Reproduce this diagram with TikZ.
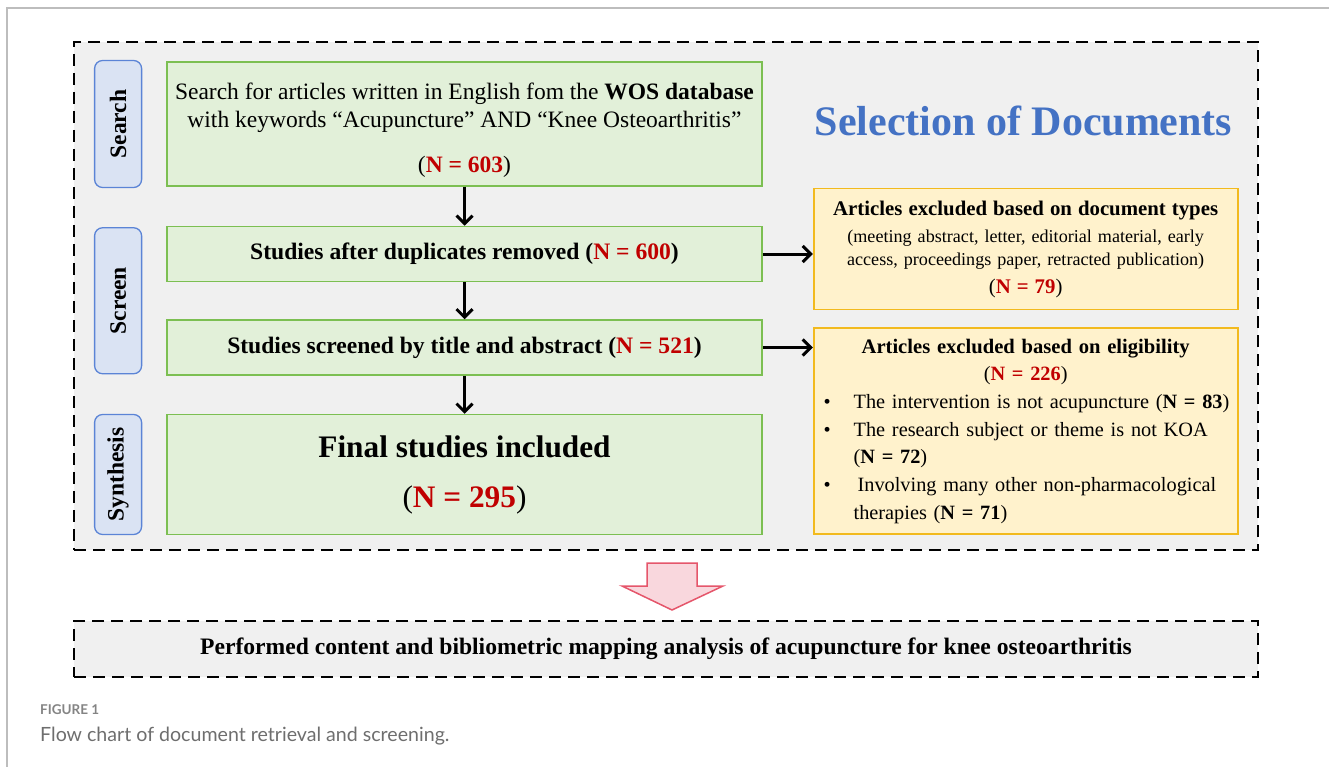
\documentclass[tikz,border=0pt]{standalone}
\usepackage{fontspec}
\setmainfont{Liberation Serif}
\newfontfamily\capfont{Lato}
\usepackage{xcolor}
\usepackage{tikz}
\usetikzlibrary{arrows.meta, positioning, calc}

\definecolor{framegray}{HTML}{F0F0F0}
\definecolor{pagegray}{HTML}{BDBDBD}
\definecolor{stagefill}{HTML}{DAE3F3}
\definecolor{stageblue}{HTML}{5B84D6}
\definecolor{stpfill}{HTML}{E2F0D9}
\definecolor{stpgreen}{HTML}{7CBF52}
\definecolor{exclfill}{HTML}{FFF2CC}
\definecolor{exclgold}{HTML}{F2BA1E}
\definecolor{nred}{HTML}{C00000}
\definecolor{titleblue}{HTML}{4472C4}
\definecolor{pinkfill}{HTML}{F9D7DD}
\definecolor{pinkedge}{HTML}{E5566B}
\definecolor{capgray}{HTML}{6E6E6E}

\newcommand{\nred}[1]{\textcolor{nred}{\textbf{#1}}}

\begin{document}
\begin{tikzpicture}[x=1pt, y=-1pt,
    node distance=38pt and 24pt,
    stagebox/.style={rectangle, draw=stageblue, fill=stagefill, line width=1.3pt, rounded corners=8pt, minimum width=47pt, inner sep=0pt, font=\fontsize{23.5}{26}\selectfont\bfseries},
    stp/.style={rectangle, draw=stpgreen, fill=stpfill, line width=1.5pt, minimum width=595pt, inner sep=0pt, align=center},
    excl/.style={rectangle, draw=exclgold, fill=exclfill, line width=1.8pt, minimum width=424pt, text width=412pt, inner xsep=6pt, inner ysep=0pt},
    dashbox/.style={draw=black, fill=framegray, line width=2pt, dash pattern=on 12pt off 7pt},
    arrow/.style={-{Straight Barb[length=8pt, width=16pt]}, line width=3pt},
]
\useasboundingbox (0,0) rectangle (1329,767);
\draw[pagegray, line width=1.5pt] (7,767) -- (7,8) -- (1329,8);

\node[dashbox, minimum width=1184pt, minimum height=508pt] (frame) at (666,296) {};

\node[stp, minimum height=124pt, font=\fontsize{23.5}{28}\selectfont] (search) at (464.5,124) {\rule{0pt}{30pt}Search for articles written in English fom the \textbf{WOS database}\\with keywords “Acupuncture” AND “Knee Osteoarthritis”\\[17pt](\nred{N = 603})};
\node[stp, below=39pt of search, minimum height=55pt, font=\fontsize{23.6}{28}\selectfont\bfseries] (dup) {Studies after duplicates removed (\textcolor{nred}{N = 600})};
\node[stp, below=37pt of dup, minimum height=55pt, font=\fontsize{23.6}{28}\selectfont\bfseries] (scr) {Studies screened by title and abstract (\textcolor{nred}{N = 521})};
\node[stp, below=of scr, minimum height=120pt, font=\fontsize{31.3}{50}\selectfont\bfseries] (final) {Final studies included\\\textmd{(}\textcolor{nred}{N = 295}\textmd{)}};

\node[stagebox, minimum height=127pt, left=of search] (lsearch) {\rotatebox{90}{Search}};
\coordinate (mid) at ($(dup.north)!0.5!(scr.south)$);
\node[stagebox, minimum height=146pt] (lscreen) at (lsearch |- mid) {\rotatebox{90}{Screen}};
\node[stagebox, minimum height=120pt, left=of final] (lsynth) {\rotatebox{90}{Synthesis}};

\node[font=\fontsize{42}{48}\selectfont\bfseries, text=titleblue] (title) at (1023.5,121) {Selection of Documents};

\node[excl, align=center, minimum height=121pt, right=50pt of dup, yshift=5pt, font=\fontsize{18.1}{23}\selectfont] (excl1) {{\fontsize{20.8}{23}\selectfont\bfseries Articles excluded based on document types}\\[4pt](meeting abstract, letter, editorial material, early\\access, proceedings paper, retracted publication)\\[5pt]{\fontsize{20.8}{23}\selectfont(\nred{N = 79})}};
\node[excl, align=left, minimum height=206pt, below=17pt of excl1, font=\fontsize{20.3}{27.7}\selectfont] (excl2) {\centering{\fontsize{20.6}{27.7}\selectfont\textbf{Articles excluded based on eligibility}}\\(\nred{N = 226})\par
\raggedright
\noindent\hangindent=34pt\hangafter=1\makebox[34pt][l]{\hspace{4pt}\textbullet}The intervention is not acupuncture (\textbf{N = 83})\par
\noindent\hangindent=34pt\hangafter=1\makebox[34pt][l]{\hspace{4pt}\textbullet}The research subject or theme is not KOA\newline(\textbf{N = 72})\par
\noindent\hangindent=34pt\hangafter=1\makebox[34pt][l]{\hspace{4pt}\textbullet}\hspace{4pt}Involving many other non-pharmacological\newline therapies (\textbf{N = 71})\par};

\draw[arrow] (search) -- (dup);
\draw[arrow] (dup) -- (scr);
\draw[arrow] (scr) -- (final);
\draw[arrow] (dup.east) -- (dup.east -| excl1.west);
\draw[arrow] (scr.east) -- (scr.east -| excl2.west);

\node[dashbox, minimum width=1184pt, minimum height=56pt, font=\fontsize{23.6}{26}\selectfont\bfseries] (result) at (666,649) {Performed content and bibliometric mapping analysis of acupuncture for knee osteoarthritis};
\draw[draw=pinkedge, fill=pinkfill, line width=1.5pt] (647,563) -- ++(50,0) -- ++(0,23) -- ++(26,0) -- (672,610) -- ++(-50,-24) -- ++(25,0) -- cycle;

\node[anchor=base west, inner sep=0pt, font=\capfont\bfseries\fontsize{13.5}{16}\selectfont, text=capgray!85] (fig) at (40,714) {FIGURE 1};
\node[anchor=base west, inner sep=0pt, font=\capfont\fontsize{19.6}{23}\selectfont, text=capgray] (cap) at (40,741) {Flow chart of document retrieval and screening.};
\end{tikzpicture}
\end{document}
